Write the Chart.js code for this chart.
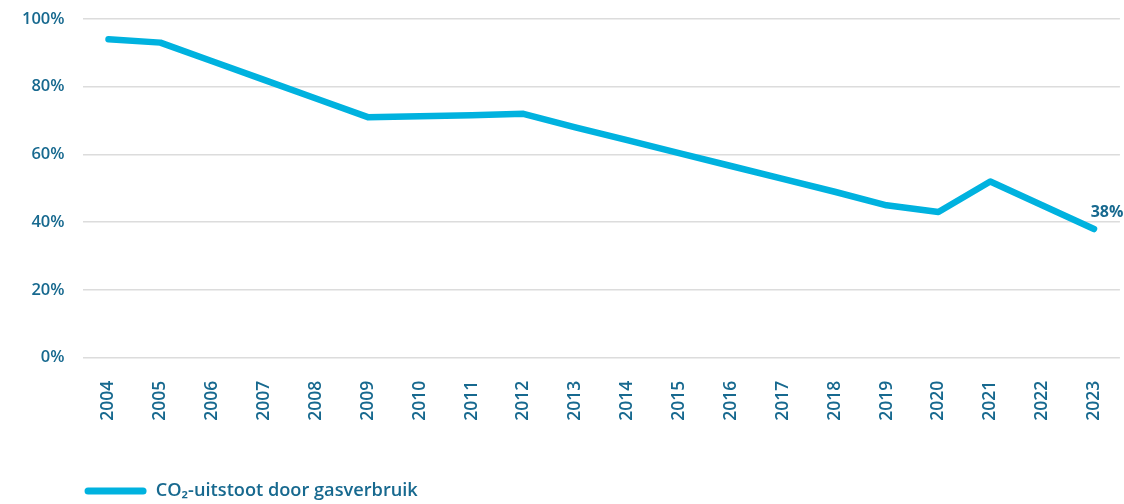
<!DOCTYPE html>
<html>
<head>
<meta charset="utf-8">
<script src="https://cdn.jsdelivr.net/npm/chart.js@4/dist/chart.umd.min.js"></script>
<style>
html,body{margin:0;padding:0;background:#fff;overflow:hidden;}
#outer{width:1124px;height:504px;position:relative;overflow:hidden;}
#wrap{width:1138px;height:513px;position:absolute;top:-9px;left:0;}
</style>
</head>
<body>
<div id="outer"><div id="wrap"><canvas id="c"></canvas></div></div>
<script>
const years = ['2004','2005','2006','2007','2008','2009','2010','2011','2012','2013','2014','2015','2016','2017','2018','2019','2020','2021','2022','2023'];
const emissions = [94, 93, 87.5, 82, 76.5, 71, 71.3, 71.6, 72, 68, 64.2, 60.4, 56.6, 52.8, 49, 45, 43, 52, 45, 38];
const seriesLabel = 'CO\u2082-uitstoot door gasverbruik';
const endLabel = '38%';

const textColor = '#17698f';
const lineColor = '#00b2df';

const endLabelPlugin = {
  id: 'endLabel',
  afterDatasetsDraw(chart) {
    const meta = chart.getDatasetMeta(0);
    const pt = meta.data[meta.data.length - 1];
    const ctx = chart.ctx;
    ctx.save();
    ctx.font = '700 16px "Open Sans"';
    ctx.fillStyle = textColor;
    ctx.textAlign = 'center';
    ctx.textBaseline = 'bottom';
    ctx.fillText(endLabel, pt.x + 13, pt.y - 9);
    ctx.restore();
  }
};

new Chart(document.getElementById('c'), {
  type: 'line',
  data: {
    labels: years,
    datasets: [{
      label: seriesLabel,
      data: emissions,
      borderColor: lineColor,
      backgroundColor: lineColor,
      borderWidth: 6.5,
      borderCapStyle: 'round',
      borderJoinStyle: 'round',
      pointRadius: 0,
      tension: 0
    }]
  },
  options: {
    responsive: true,
    maintainAspectRatio: false,
    animation: false,
    layout: { padding: { top: 0, right: 0, left: 4, bottom: -6 } },
    scales: {
      x: {
        offset: true,
        grid: { display: false, drawTicks: false },
        border: { display: false },
        ticks: {
          color: textColor,
          font: { family: 'Open Sans', size: 17.5, weight: '600' },
          minRotation: 90,
          maxRotation: 90,
          padding: 23
        }
      },
      y: {
        min: 0,
        max: 100,
        grid: { color: '#dcdcdc', lineWidth: 1.5, drawTicks: false },
        border: { display: false },
        ticks: {
          stepSize: 20,
          color: textColor,
          font: { family: 'Open Sans', size: 16.5, weight: '600' },
          padding: 18,
          callback: v => v + '%'
        }
      }
    },
    plugins: {
      legend: {
        position: 'bottom',
        align: 'start',
        fullSize: false,
        title: { display: true, text: ' ', font: { size: 10 }, padding: { top: 24, bottom: 0 } },
        labels: {
          color: textColor,
          font: { family: 'Open Sans', size: 18.2, weight: '600' },
          boxWidth: 62,
          boxHeight: 7,
          useBorderRadius: true,
          borderRadius: 3.5,
          padding: 2,
          generateLabels(chart) {
            const items = Chart.defaults.plugins.legend.labels.generateLabels(chart);
            items.forEach(it => { it.lineWidth = 0; it.strokeStyle = lineColor; });
            return items;
          }
        }
      },
      tooltip: { enabled: false }
    }
  },
  plugins: [endLabelPlugin]
});
</script>
</body>
</html>
